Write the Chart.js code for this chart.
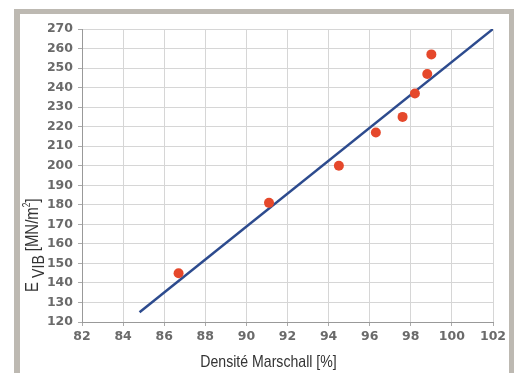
<!DOCTYPE html>
<html>
<head>
<meta charset="utf-8">
<script src="https://cdn.jsdelivr.net/npm/chart.js@4"></script>
<style>
    html, body {margin: 0; padding: 0; background: #fff;}
    #wrap {position: relative; width: 522px; height: 373px; overflow: hidden;}
    #frame {position: absolute; left: 14px; top: 9px; width: 489px; height: 400px; border: 5px solid #bdb9b2; border-width: 5px 5px 0 6px;}
    canvas {position: absolute; left: 0; top: 0;}
</style>
</head>
<body>
<div id="wrap">
    <div id="frame"></div>
    <canvas id="chart" width="522" height="373"></canvas>
</div>
<script>
// mesures : densité Marschall [%] / module E VIB [MN/m2]
const densite = [86.7, 91.1, 94.5, 96.3, 97.6, 98.2, 98.8, 99.0];
const evib = [145, 181, 200, 217, 225, 237, 247, 257];
// droite de régression
const fitX = [84.8, 102];
const fitY = [125, 270];

const xMin = 82, xMax = 102, xStep = 2;
const yMin = 120, yMax = 270, yStep = 10;

const titleFont = "'Liberation Sans', Arial, sans-serif";
const squeeze = 0.83;

let titlesPlugin = {
    id: "titles",
    afterDraw: (chart) => {
        const {ctx, chartArea: {left, right}} = chart;
        ctx.save();
        ctx.fillStyle = "#333";
        ctx.font = "17px " + titleFont;
        ctx.textAlign = "center";
        ctx.textBaseline = "middle";
        ctx.translate((left + right) / 2 - 19, 362);
        ctx.scale(squeeze, 1);
        ctx.fillText("Densité Marschall [%]", 0, 0);
        ctx.restore();

        // titre vertical avec indice
        ctx.save();
        ctx.fillStyle = "#333";
        ctx.translate(32, 292);
        ctx.rotate(-Math.PI / 2);
        ctx.scale(squeeze, 1);
        ctx.textAlign = "left";
        ctx.textBaseline = "alphabetic";
        let x = 0;
        ctx.font = "18px " + titleFont;
        ctx.fillText("E", x, 6);
        x += ctx.measureText("E ").width;
        ctx.font = "17px " + titleFont;
        ctx.fillText("VIB", x, 12);
        x += ctx.measureText("VIB ").width;
        ctx.font = "18px " + titleFont;
        ctx.fillText("[MN/m", x, 6);
        x += ctx.measureText("[MN/m").width;
        ctx.font = "10px " + titleFont;
        ctx.fillText("2", x, -2);
        x += ctx.measureText("2").width;
        ctx.font = "18px " + titleFont;
        ctx.fillText("]", x, 6);
        ctx.restore();
    }
}

let tickFont = {family: "'DejaVu Sans', Verdana, sans-serif", size: 12.5, weight: "bold"};

let scalesOptions = {
    x: {
        type: "linear",
        min: xMin,
        max: xMax,
        afterFit: (scale) => { scale.height = 373 - 322; },
        afterBuildTicks: (scale) => {
            let t = [];
            for (let v = xMin; v <= xMax; v += xStep) t.push({value: v});
            scale.ticks = t;
        },
        ticks: {color: "#6a6a6a", font: tickFont, padding: 3, maxRotation: 0, autoSkip: false},
        grid: {color: "#d6d6d6", lineWidth: 1, tickLength: 4, tickColor: "#aaa"},
        border: {color: "#999", width: 1}
    },
    y: {
        type: "linear",
        min: yMin,
        max: yMax,
        afterFit: (scale) => { scale.width = 82; },
        afterBuildTicks: (scale) => {
            let t = [];
            for (let v = yMin; v <= yMax; v += yStep) t.push({value: v});
            scale.ticks = t;
        },
        ticks: {color: "#6a6a6a", font: tickFont, padding: 5, autoSkip: false},
        grid: {color: "#d6d6d6", lineWidth: 1, tickLength: 4, tickColor: "#aaa"},
        border: {color: "#999", width: 1}
    }
}

let datasets = [
    {
        type: "line",
        data: fitX.map((v, i) => ({x: v, y: fitY[i]})),
        borderColor: "#2d4b8e",
        borderWidth: 2.5,
        pointRadius: 0,
        fill: false,
        order: 2
    },
    {
        type: "scatter",
        data: densite.map((v, i) => ({x: v, y: evib[i]})),
        backgroundColor: "#e5482b",
        borderColor: "#e5482b",
        pointRadius: 5,
        borderWidth: 0,
        order: 1
    }
]

new Chart(document.getElementById("chart"), {
    type: "scatter",
    data: {datasets: datasets},
    plugins: [titlesPlugin],
    options: {
        responsive: false,
        animation: false,
        layout: {padding: {top: 29, right: 29, left: 0, bottom: 0}},
        plugins: {legend: {display: false}, tooltip: {enabled: false}},
        scales: scalesOptions
    }
});
</script>
</body>
</html>
